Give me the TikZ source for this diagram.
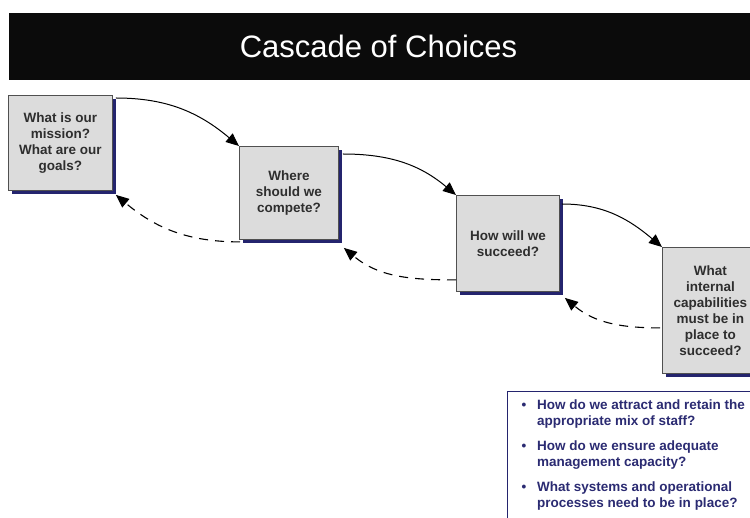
\documentclass[tikz,border=0pt]{standalone}
\usepackage{fontspec}
\setmainfont{Liberation Sans}
\usetikzlibrary{arrows.meta,shadows,calc}

\definecolor{navy}{HTML}{24246E}
\definecolor{bullettext}{HTML}{2B2B72}
\definecolor{boxfill}{HTML}{DCDCDC}
\definecolor{boxline}{HTML}{505050}
\definecolor{boxtext}{HTML}{2E2E2E}
\definecolor{barfill}{HTML}{0B0B0B}

\begin{document}
\begin{tikzpicture}[x=1pt,y=-1pt,
  choice/.style={draw=boxline, line width=0.9pt, fill=boxfill,
    general shadow={fill=navy, shadow xshift=4pt, shadow yshift=-4pt},
    anchor=north west, inner sep=0pt, align=center, text=boxtext,
    font=\fontsize{13.5}{16}\selectfont\bfseries},
  forward/.style={line width=1pt, -{Triangle[length=13pt,width=11pt]}},
  backward/.style={line width=1.1pt, dash pattern=on 9pt off 7pt,
    -{Triangle[length=13pt,width=11pt]}}]

\useasboundingbox (0,0) rectangle (750,518);
\clip (0,0) rectangle (750,518);

% title bar
\fill[barfill] (9,13) rectangle (760,80);
\node[anchor=base, text=white, inner sep=0pt,
  font=\fontsize{31}{36}\selectfont] (title) at (378.5,58) {Cascade of Choices};

% the four choice boxes
\node[choice, minimum width=104pt, minimum height=95pt] (b1) at (8,95)
  {What is our\\mission?\\What are our\\goals?};
\node[choice, minimum width=99pt, minimum height=93pt] (b2) at (239,146)
  {Where\\should we\\compete?};
\node[choice, minimum width=103pt, minimum height=96pt] (b3) at (456,195)
  {How will we\\succeed?};
\node[choice, minimum width=96pt, minimum height=126pt] (b4) at (662,247)
  {What\\internal\\capabilities\\must be in\\place to\\succeed?};

% forward connectors
\coordinate (s1) at ($(b1.north east)+(3,3)$);
\coordinate (s2) at ($(b2.north east)+(4,8)$);
\coordinate (s3) at ($(b3.north east)+(2,9)$);
\draw[forward] (s1) to[out=0,in=140] (b2.north west);
\draw[forward] (s2) to[out=0,in=140] (b3.north west);
\draw[forward] (s3) to[out=0,in=140] (b4.north west);

% feedback connectors
\coordinate (r2) at ($(b2.south west)+(1,2)$);
\coordinate (r3) at ($(b3.south west)+(0,-12)$);
\coordinate (r4) at ($(b4.south west)+(-2,-46)$);
\coordinate (e1) at ($(b1.south east)+(3,4)$);
\coordinate (e2) at ($(b2.south east)+(5,8)$);
\coordinate (e3) at ($(b3.south east)+(5,6)$);
\draw[backward] (r2) to[out=180,in=-40] (e1);
\draw[backward] (r3) to[out=180,in=-40] (e2);
\draw[backward] (r4) to[out=180,in=-40] (e3);

% detail panel
\draw[navy, line width=0.9pt] (760,391) -- (507,391) -- (507,530);
\node[anchor=north west, inner sep=0pt, text=bullettext,
  font=\fontsize{13.5}{16}\selectfont\bfseries] (details) at (521.5,398.3) {%
  \begin{tabular}{@{}l@{}l@{}}
  \makebox[15.5pt][l]{\textbullet} & How do we attract and retain the\\
   & appropriate mix of staff?\\[9pt]
  \makebox[15.5pt][l]{\textbullet} & How do we ensure adequate\\
   & management capacity?\\[9pt]
  \makebox[15.5pt][l]{\textbullet} & What systems and operational\\
   & processes need to be in place?
  \end{tabular}};
\end{tikzpicture}
\end{document}
